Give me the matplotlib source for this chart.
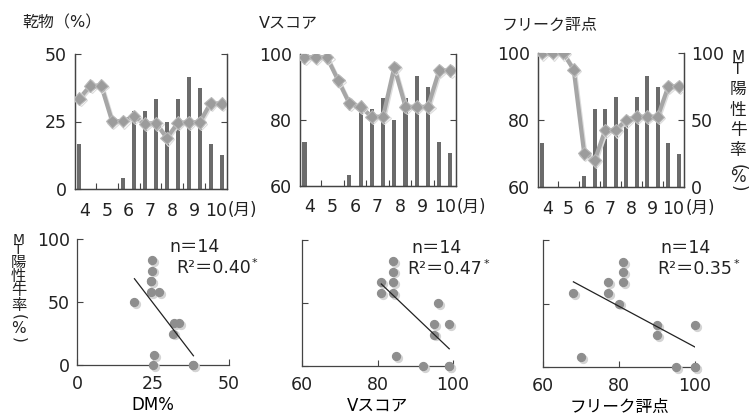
import matplotlib
matplotlib.use('Agg')
import matplotlib.pyplot as plt
import matplotlib.patheffects as pe
from matplotlib.transforms import ScaledTranslation
import numpy as np

plt.rcParams['font.family'] = ['DejaVu Sans', 'Noto Sans CJK JP']
plt.rcParams['text.color'] = '#222222'
plt.rcParams['xtick.color'] = '#444444'
plt.rcParams['ytick.color'] = '#444444'
plt.rcParams['xtick.labelcolor'] = '#222222'
plt.rcParams['ytick.labelcolor'] = '#222222'

# two samplings per month (first / second half), April - October
months = [4, 5, 6, 7, 8, 9, 10]
sample_x = [m + d for m in months for d in (-0.25, 0.25)]

mt_rate = [33, 0, 0, 0, 8, 58, 58, 67, 50, 67, 83, 75, 33, 25]
dry_matter = [33.5, 38.3, 38.3, 25.0, 25.2, 26.9, 24.2, 24.4, 18.9, 24.5, 24.7, 24.7, 31.8, 31.6]
v_score = [99, 99, 99, 92, 85, 84, 81, 81, 96, 84, 84, 84, 95, 95]
fleak = [100, 100, 100, 95, 70, 68, 77, 77, 80, 81, 81, 81, 90, 90]

titles = ['乾物（%）', 'Vスコア', 'フリーク評点']
xlabels = ['DM%', 'Vスコア', 'フリーク評点']
r2_text = ['0.40', '0.47', '0.35']
n_samples = 14
series = [dry_matter, v_score, fleak]
left_lim = [(0, 50), (60, 100), (60, 100)]
left_ticks = [[0, 25, 50], [60, 80, 100], [60, 80, 100]]
mt_label = ['M', 'T', '陽', '性', '牛', '率', '(', '%', ')']

W, H = 752, 416
fig = plt.figure(figsize=(W / 100, H / 100), dpi=100)


def axes_px(l, t, r, b):
    return fig.add_axes([l / W, 1 - b / H, (r - l) / W, (b - t) / H])


def vertical_label(x, ys, chars, size):
    # stacked one character per row; brackets turned on their side
    for y, ch in zip(ys, chars):
        rot = -90 if ch in '()' else 0
        fs = size - 1 if ch in 'MT' else size
        fig.text(x / W, 1 - y / H, ch, ha='center', va='center', fontsize=fs, rotation=rot)


top_boxes = [(75, 54, 227, 189), (300, 54, 456, 186), (538, 53, 684, 187)]
bottom_boxes = [(77, 239, 229, 365), (302, 240, 453, 366), (543, 240, 695, 367)]
title_pos = [(22, 23), (259, 23), (502, 25)]
n_pos = [(0.61, 0.94), (0.725, 0.94), (0.77, 0.94)]
r2_pos = [(0.65, 0.77), (0.70, 0.77), (0.75, 0.77)]

spine_c = '#444444'
bar_c = '#6b6b6b'
line_c = '#a6a6a6'
dot_c = '#8e8e8e'
tick_fs = 12.5

for i in range(3):
    # seasonal change: bars = MT positive rate, line = quality index
    ax = axes_px(*top_boxes[i])
    axr = ax.twinx()
    axr.bar(sample_x, mt_rate, width=0.18, color=bar_c, zorder=2)
    axr.set_ylim(0, 100)
    axr.set_yticks([0, 50, 100])
    axr.tick_params(axis='y', direction='in', length=4, width=0.8, pad=5,
                    labelsize=tick_fs, labelright=(i == 2))
    ax.set_zorder(axr.get_zorder() + 1)
    ax.patch.set_visible(False)
    ax.plot(sample_x, series[i], color=line_c, lw=3, marker='D', ms=6.5,
            mfc='#9c9c9c', mec='#b8b8b8', mew=0.8, zorder=3,
            path_effects=[pe.SimpleLineShadow(offset=(0.9, -0.9), shadow_color='#dcdcdc', alpha=1),
                          pe.Normal()])
    ax.set_xlim(3.55, 10.5)
    ax.set_ylim(*left_lim[i])
    ax.set_yticks(left_ticks[i])
    ax.set_xticks(months)
    ax.set_xticklabels([str(m) for m in months])
    ax.set_xticks([m + 0.5 for m in months[:-1]], minor=True)
    ax.tick_params(axis='x', which='major', length=0, pad=9, labelsize=tick_fs)
    ax.tick_params(axis='x', which='minor', direction='in', length=4, width=0.8)
    ax.tick_params(axis='y', direction='in', length=4, width=0.8, pad=6, labelsize=tick_fs)
    for a in (ax, axr):
        a.spines['top'].set_visible(False)
        for s in a.spines.values():
            s.set_color(spine_c)
            s.set_linewidth(0.9)
    ax.annotate('(月)', xy=(10, 0), xycoords=('data', 'axes fraction'),
                xytext=(8.5, -8.5), textcoords='offset points', ha='left', va='top', fontsize=12)
    fig.text(title_pos[i][0] / W, 1 - title_pos[i][1] / H, titles[i],
             ha='left', va='center', fontsize=11.5)

    # relationship between quality index and MT positive rate
    bx = axes_px(*bottom_boxes[i])
    x = np.array(series[i])
    y = np.array(mt_rate)
    shadow = bx.transData + ScaledTranslation(1.4 / 72, -1.4 / 72, fig.dpi_scale_trans)
    bx.scatter(x, y, s=32, color='#d4d4d4', zorder=3, clip_on=False, transform=shadow)
    bx.scatter(x, y, s=32, color=dot_c, zorder=4, clip_on=False)
    k, c = np.polyfit(x, y, 1)
    xs = np.array([x.min(), x.max()])
    bx.plot(xs, k * xs + c, color='#222222', lw=0.9, zorder=5)
    bx.set_xlim(*left_lim[i])
    bx.set_xticks(left_ticks[i])
    bx.set_ylim(0, 100)
    bx.set_yticks([0, 50, 100])
    bx.tick_params(direction='in', length=4, width=0.8, labelsize=tick_fs)
    bx.tick_params(axis='x', pad=7)
    bx.tick_params(axis='y', pad=5, labelleft=(i == 0))
    for s in ('top', 'right'):
        bx.spines[s].set_visible(False)
    for s in ('left', 'bottom'):
        bx.spines[s].set_color(spine_c)
        bx.spines[s].set_linewidth(0.9)
    bx.set_xlabel(xlabels[i], fontsize=12, labelpad=2)
    bx.text(*n_pos[i], f'n＝{n_samples}', transform=bx.transAxes, ha='left', va='center', fontsize=12.5)
    t = bx.text(*r2_pos[i], f'R²＝{r2_text[i]}', transform=bx.transAxes,
                ha='left', va='center', fontsize=12.5)
    bx.annotate('*', xy=(1, 1), xycoords=t, xytext=(1, 1), textcoords='offset points',
                ha='left', va='top', fontsize=8)

vertical_label(738, [57, 70, 89, 110, 129.5, 149.5, 167, 177.5, 188.5], mt_label, 12)
vertical_label(18.5, [239.5, 250.5, 262, 276, 291, 305.5, 317, 328.5, 340], mt_label, 11)

fig.savefig('out.png', dpi=100)
